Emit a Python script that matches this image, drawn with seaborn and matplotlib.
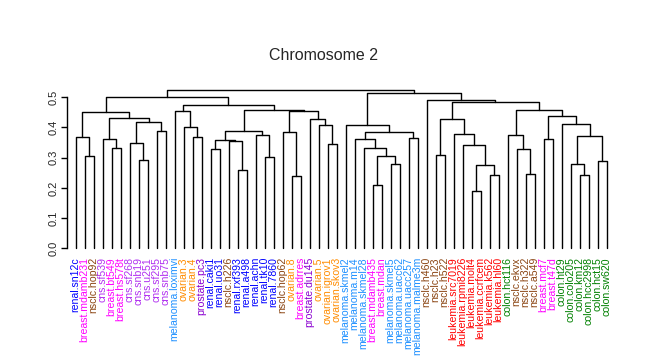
import numpy as np
import pandas as pd
import matplotlib
matplotlib.use("Agg")
import matplotlib.pyplot as plt
import seaborn as sns

labels = ["renal.sn12c", "breast.mdamb231", "nsclc.hop92", "cns.sf539", "breast.bt549",
          "breast.hs578t", "cns.sf268", "cns.snb19", "cns.u251", "cns.sf295", "cns.snb75",
          "melanoma.loximvi", "ovarian.3", "ovarian.4", "prostate.pc3", "renal.caki1",
          "renal.uo31", "nsclc.h226", "renal.rxf393", "renal.a498", "renal.achn",
          "renal.tk10", "renal.7860", "nsclc.hop62", "ovarian.8", "breast.adrres",
          "prostate.du145", "ovarian.5", "ovarian.igrov1", "ovarian.skov3",
          "melanoma.skmel2", "melanoma.m14", "melanoma.skmel28", "breast.mdamb435",
          "breast.mdan", "melanoma.skmel5", "melanoma.uacc62", "melanoma.uacc257",
          "melanoma.malme3m", "nsclc.h460", "nsclc.h23", "nsclc.h522", "leukemia.src7019",
          "leukemia.rpmi8226", "leukemia.molt4", "leukemia.ccrfcem", "leukemia.k562",
          "leukemia.hl60", "colon.hct116", "nsclc.ekvx", "nsclc.h322", "nsclc.a549",
          "breast.mcf7", "breast.t47d", "colon.ht29", "colon.colo205", "colon.km12",
          "colon.hcc2998", "colon.hct15", "colon.sw620"]

tissue_colors = {"renal": "#0000FF", "breast": "#FF00FF", "nsclc": "#8B4513",
                 "cns": "#B030F0", "melanoma": "#1E90FF", "ovarian": "#FF8C00",
                 "prostate": "#8A00D0", "leukemia": "#FF0000", "colon": "#008000"}

# merges: (left, right, height); leaves 0..59, new clusters numbered 60+
merge_left = [1, 0, 4, 3, 7, 6, 9, 65, 63, 61, 13, 12, 11, 15, 18, 17, 73, 21, 20, 76,
              24, 23, 28, 27, 26, 81, 79, 72, 69, 33, 35, 89, 32, 31, 37, 93, 30, 40,
              44, 46, 98, 43, 42, 97, 50, 49, 48, 52, 56, 55, 58, 109, 54, 107, 106,
              103, 39, 96, 88]
merge_right = [2, 60, 5, 62, 8, 64, 10, 66, 67, 68, 14, 70, 71, 16, 19, 74, 75, 22, 77,
               78, 25, 80, 29, 82, 83, 84, 85, 86, 87, 34, 36, 90, 91, 92, 38, 94, 95,
               41, 45, 47, 99, 100, 101, 102, 51, 104, 105, 53, 57, 108, 59, 110, 111,
               112, 113, 114, 115, 116, 117]
merge_height = [0.307, 0.370, 0.331, 0.361, 0.291, 0.348, 0.387, 0.417, 0.430, 0.450,
                0.370, 0.401, 0.454, 0.328, 0.258, 0.354, 0.358, 0.301, 0.374, 0.387,
                0.238, 0.384, 0.344, 0.407, 0.427, 0.454, 0.457, 0.474, 0.500, 0.209,
                0.278, 0.305, 0.331, 0.361, 0.364, 0.384, 0.408, 0.308, 0.189, 0.242,
                0.275, 0.341, 0.377, 0.427, 0.245, 0.328, 0.375, 0.361, 0.242, 0.278,
                0.288, 0.371, 0.412, 0.437, 0.457, 0.483, 0.490, 0.513, 0.523]

n = len(labels)
xpos = {i: float(i) for i in range(n)}
ypos = {i: 0.0 for i in range(n)}
rows = []
for k, (a, b, h) in enumerate(zip(merge_left, merge_right, merge_height)):
    cid = n + k
    xa, xb = xpos[a], xpos[b]
    rows += [(k, xa, ypos[a]), (k, xa, h), (k, xb, h), (k, xb, ypos[b])]
    xpos[cid] = (xa + xb) / 2
    ypos[cid] = h
segs = pd.DataFrame(rows, columns=["seg", "x", "height"])

sns.set_style("white")
plt.rcParams["font.family"] = ["Liberation Sans", "DejaVu Sans"]

fig = plt.figure(figsize=(6.47, 3.6), dpi=100)
ax = fig.add_axes([66.7 / 647, 1 - 254.3 / 360, 549 / 647, (254.3 - 88.2) / 360])
sns.lineplot(data=segs, x="x", y="height", units="seg", estimator=None, sort=False,
             color="black", linewidth=1.0, ax=ax)
ax.set_xlim(-1, 60)
ax.set_ylim(-0.02, 0.53)
for s in ["top", "right", "bottom"]:
    ax.spines[s].set_visible(False)
ax.spines["left"].set_bounds(0, 0.5)
ax.spines["left"].set_linewidth(1.0)
ax.spines["left"].set_color("black")
ax.set_yticks([0.0, 0.1, 0.2, 0.3, 0.4, 0.5])
ax.set_yticklabels(["0.0", "0.1", "0.2", "0.3", "0.4", "0.5"], rotation=90, va="center",
                   fontsize=8)
ax.tick_params(axis="y", left=True, length=4, width=1.0, color="black", pad=2)
ax.set_xticks(range(n))
ax.set_xticklabels(labels, rotation=90, fontsize=7.6)
ax.tick_params(axis="x", bottom=False, length=0, pad=2)
for t, lab in zip(ax.get_xticklabels(), labels):
    t.set_color(tissue_colors[lab.split(".")[0]])
ax.set_xlabel("")
ax.set_ylabel("")
ax.grid(False)
fig.text(0.5, 1 - 55 / 360, "Chromosome 2", ha="center", va="center", fontsize=11.5)
fig.savefig("out.png", dpi=100)
